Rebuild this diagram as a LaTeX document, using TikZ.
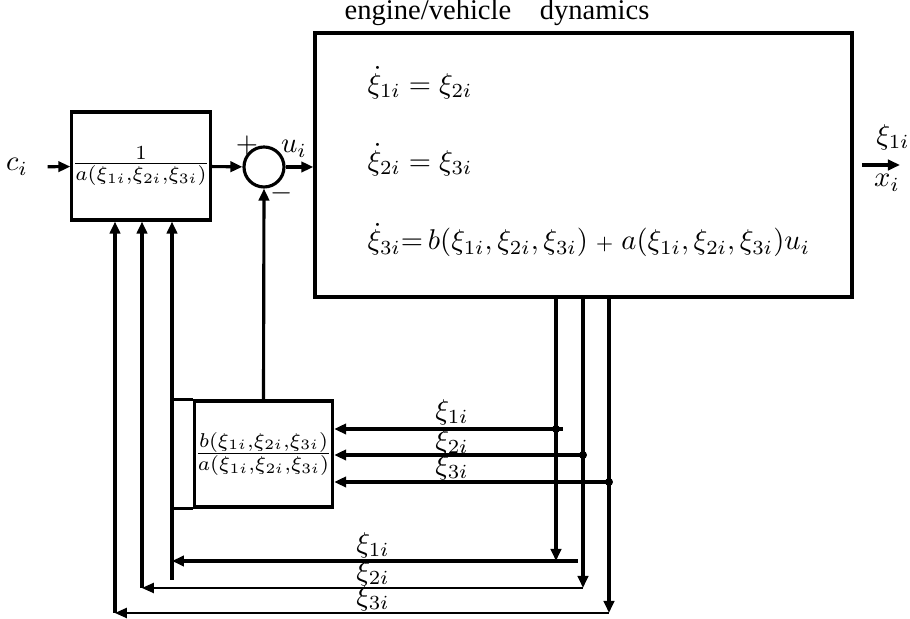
\documentclass[tikz,border=0pt]{standalone}
\usepackage{fontspec}
\setmainfont{Liberation Serif}
\usepackage{tikz}
\usetikzlibrary{arrows.meta,positioning}

\begin{document}
\begin{tikzpicture}[x=0.35pt, y=-0.35pt, line width=1.1pt, font=\fontsize{10}{12}\selectfont,
  >={Triangle[length=4.2pt,width=3.6pt]}]
  \tikzset{blk/.style={draw, rectangle, inner sep=0pt}, tap/.style={circle, fill, inner sep=0pt, minimum size=2.8pt},
    main/.style={line width=1.1pt}, fine/.style={line width=0.6pt}, eqn/.style={anchor=west, inner sep=0pt}}
  \useasboundingbox (0,0) rectangle (910,619);
  % ---- forward path ----
  \node (ci) at (17,167) {$c_i$};
  \node[blk, minimum width=48.3pt, minimum height=37.8pt] (inv) at (141,166) {$\frac{1}{a(\xi_{1i},\xi_{2i},\xi_{3i})}$};
  \node[draw, circle, minimum size=14pt, inner sep=0pt] (sum) at (264,167) {};
  \node (plus) at (247,145) {$+$};
  \node (minus) at (282,193) {$-$};
  \node (ui) at (294,149) {$u_i$};
  \draw[->, shorten <=3pt] (ci) -- (inv);
  \draw[->] (inv) -- (sum);
  % ---- engine/vehicle block ----
  \node[blk, minimum width=188pt, minimum height=92.4pt] (plant) at (583.5,165) {};
  \draw[->] (sum) -- (sum -| plant.west);
  \node (title) at (497,13) {engine/vehicle\quad dynamics};
  \node[eqn] (eqa) at (366,83) {$\dot\xi_{1i}=\xi_{2i}$};
  \node[eqn] (eqb) at (366,160) {$\dot\xi_{2i}=\xi_{3i}$};
  \node[eqn] (eqc) at (366,240) {$\dot\xi_{3i}{=}\,b(\xi_{1i},\xi_{2i},\xi_{3i})\;{\scriptstyle +}\;a(\xi_{1i},\xi_{2i},\xi_{3i})u_i$};
  \coordinate (ystart) at (862,165);
  \coordinate (yend) at (900,165);
  \draw[->] (ystart) -- (yend);
  \node (outa) at (893,137) {$\xi_{1i}$};
  \node (outb) at (887,183) {$x_i$};
  % ---- b/a block ----
  \node[blk, minimum width=48pt, minimum height=37.1pt] (ratio) at (263.5,454) {$\frac{b(\xi_{1i},\xi_{2i},\xi_{3i})}{a(\xi_{1i},\xi_{2i},\xi_{3i})}$};
  \draw (ratio.north west) -- ++(-23,0);
  \draw (ratio.south west) -- ++(-23,0);
  \draw[->] (ratio.north) -- (sum.south);
  % ---- state feedback ----
  \foreach \k/\xt/\xr/\yt/\yb/\xs/\xl/\yl/\s in {1/556/563/429/561/578/172/580/main, 2/583/583/455/588/583/142/588/fine, 3/609/609/482/613/609/115/613/fine} {
    \coordinate (top\k) at (\xt,297);
    \node[tap] (tap\k) at (\xt,\yt) {};
    \coordinate (lead\k) at (\xr,\yt);
    \coordinate (bend\k) at (\xt,\yb);
    \coordinate (from\k) at (\xs,\yb);
    \coordinate (turn\k) at (\xl,\yb);
    \coordinate (foot\k) at (\xl,\yl);
    \draw[->] (top\k) -- (bend\k);
    \draw[->, \s] (from\k) -- (turn\k);
    \draw[->] (foot\k) -- (foot\k |- inv.south);
    \draw[->] (lead\k) -- (lead\k -| ratio.east);
  }
  \node (ma) at (452,412) {$\xi_{1i}$};
  \node (mb) at (452,442) {$\xi_{2i}$};
  \node (mc) at (452,467) {$\xi_{3i}$};
  \node (la) at (373,545) {$\xi_{1i}$};
  \node (lb) at (373,573) {$\xi_{2i}$};
  \node (lc) at (373,598) {$\xi_{3i}$};
\end{tikzpicture}
\end{document}
